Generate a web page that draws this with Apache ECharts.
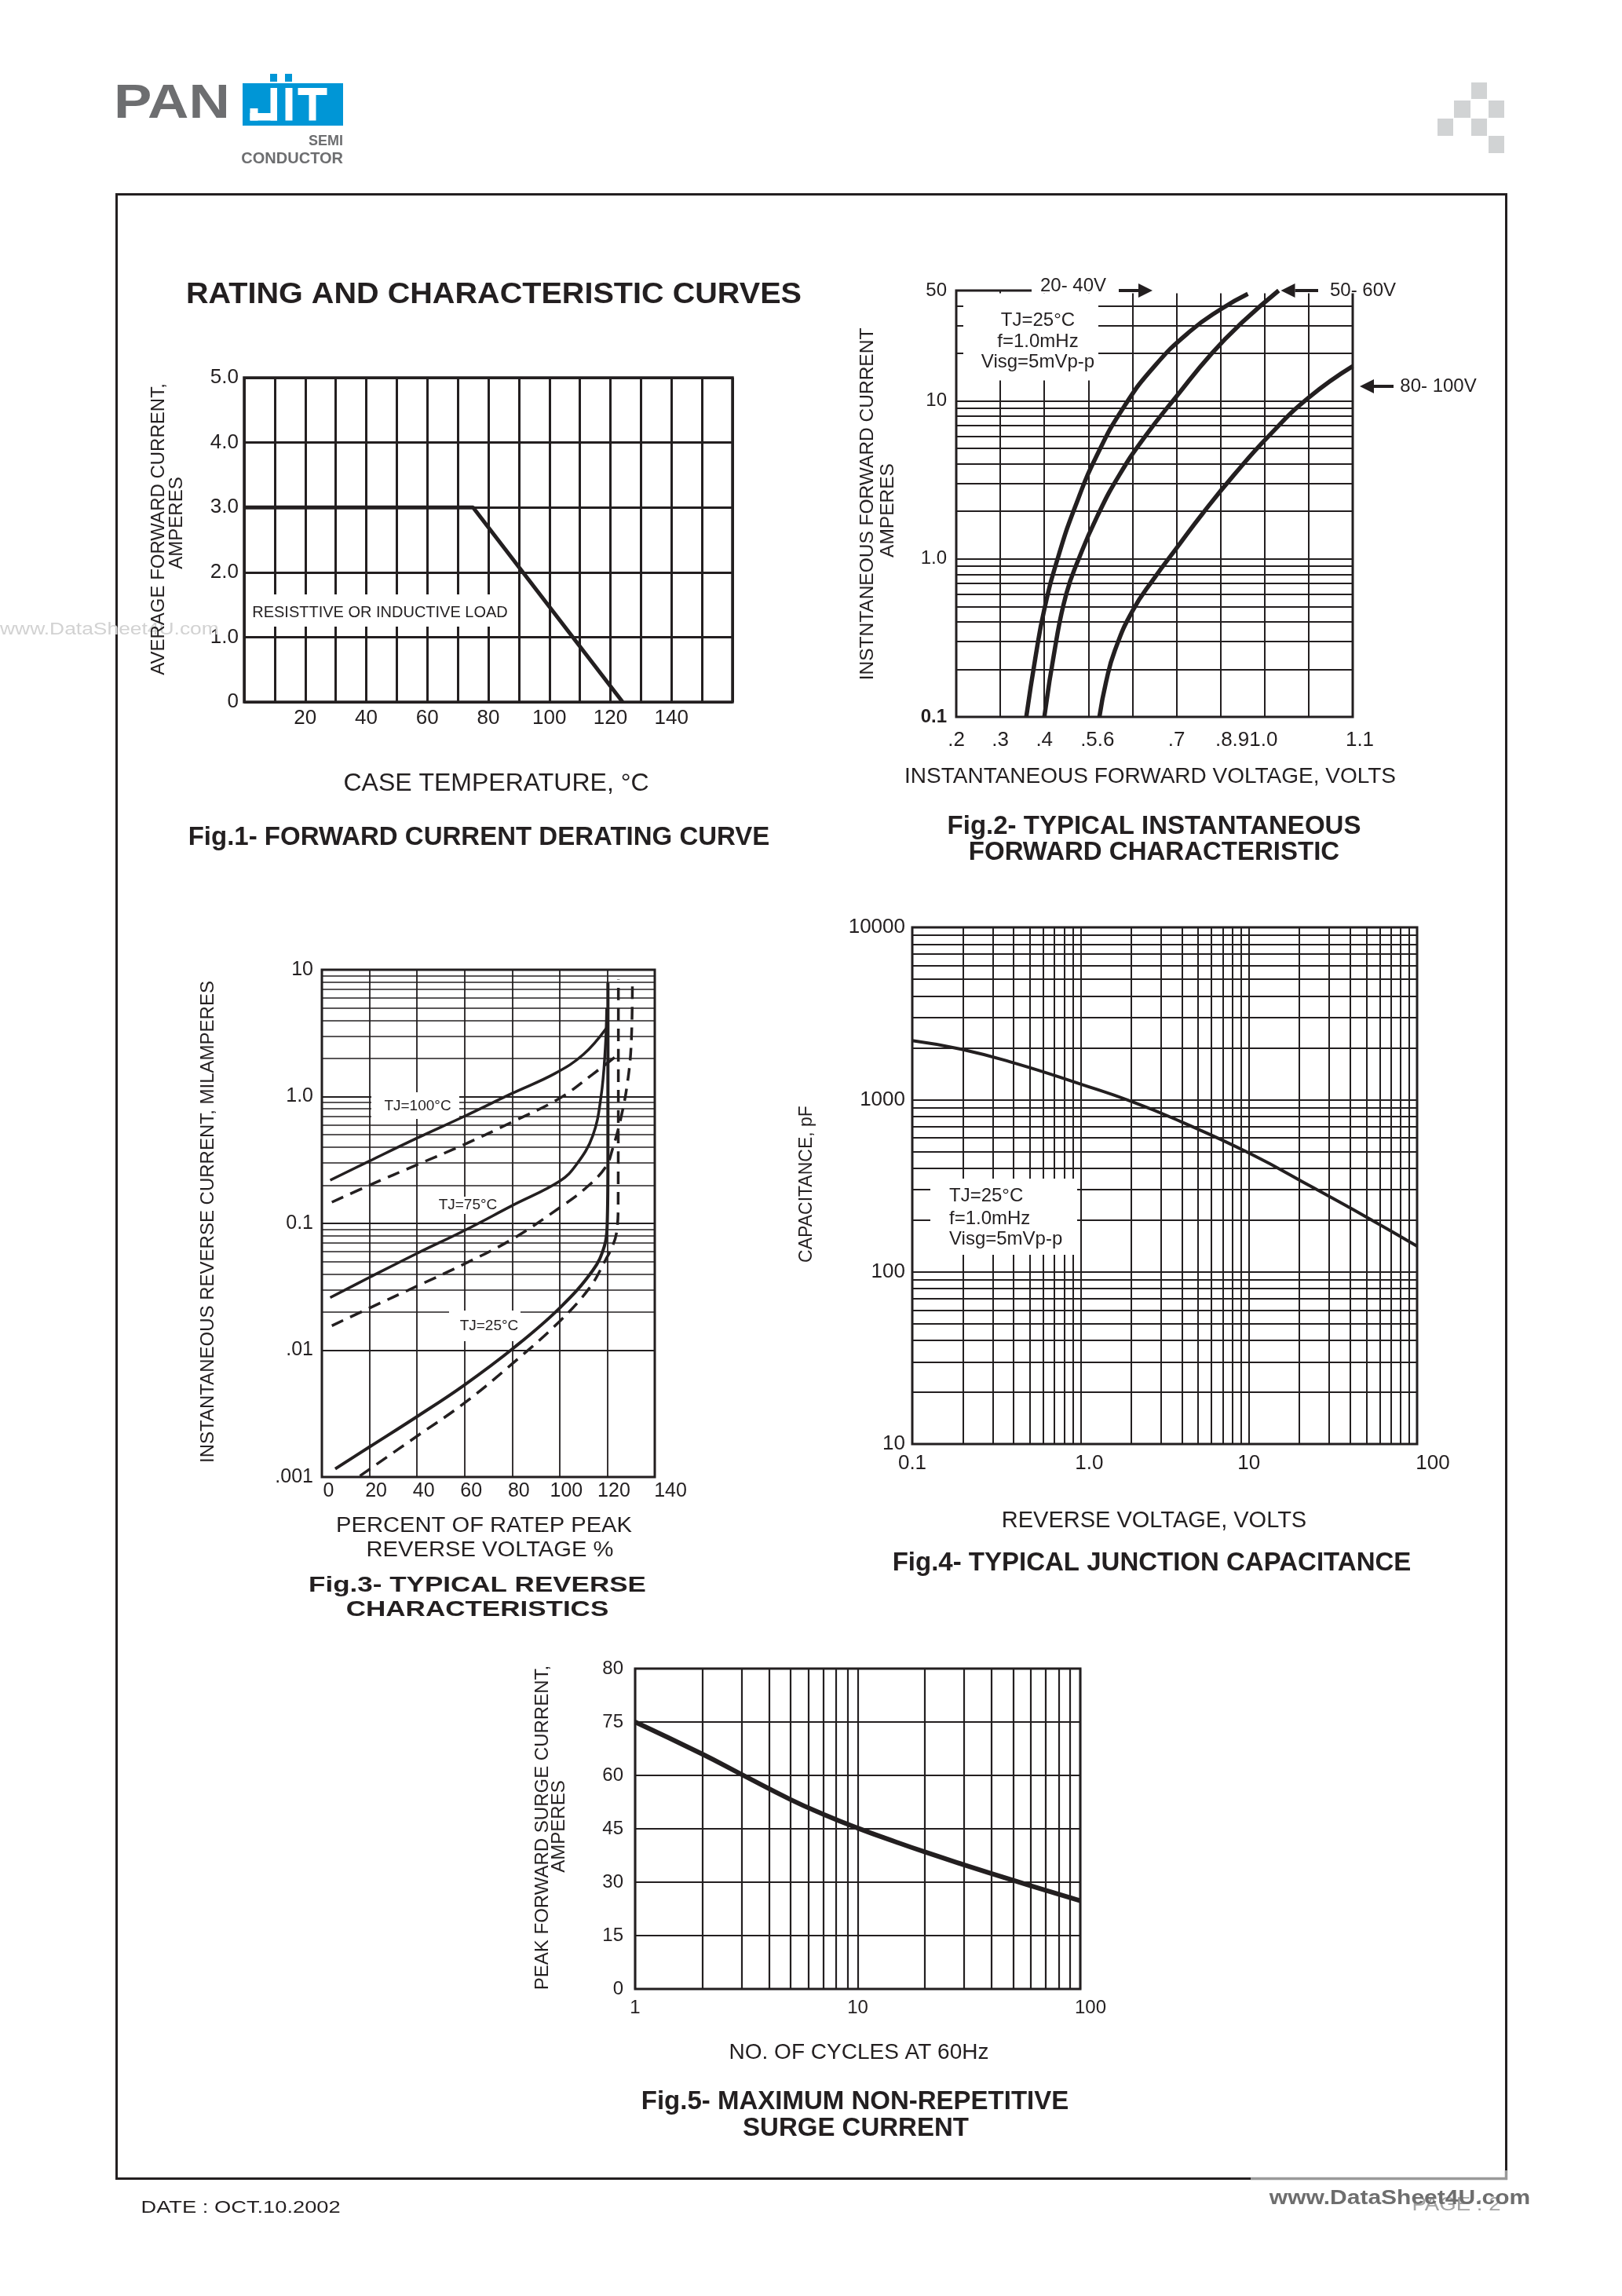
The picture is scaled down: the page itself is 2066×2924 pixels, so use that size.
<!DOCTYPE html>
<html>
<head>
<meta charset="utf-8">
<title>Rating and characteristic curves</title>
<script src="https://cdn.jsdelivr.net/npm/echarts@6.0.0/dist/echarts.min.js"></script>
<style>
  html, body { margin: 0; padding: 0; background: #fff; }
  #page { width: 2066px; height: 2924px; }
</style>
</head>
<body>
<div id="page"></div>
<script>
const INK = '#231f20'
const FONT = '"Liberation Sans", Arial, Helvetica, sans-serif'

// Fig.1 forward current derating
const fig1Temp = [0, 75, 124]
const fig1Amps = [3.0, 3.0, 0]
const fig1XTicks = [20, 40, 60, 80, 100, 120, 140]
const fig1YTicks = [0, 1, 2, 3, 4, 5]
const fig1YLabels = ['0', '1.0', '2.0', '3.0', '4.0', '5.0']

// Fig.2 forward characteristic (volts / amps)
const fig2VoltsA = [0.359, 0.380, 0.400, 0.430, 0.470, 0.520, 0.580, 0.650, 0.730, 0.800, 0.862] // 20-40V
const fig2AmpsA = [0.1, 0.24, 0.48, 1.0, 2.14, 4.57, 9.12, 16.6, 27.5, 38.0, 47.6]
const fig2VoltsB = [0.400, 0.425, 0.450, 0.478, 0.520, 0.570, 0.630, 0.700, 0.780, 0.850, 0.932] // 50-60V
const fig2AmpsB = [0.1, 0.282, 0.603, 1.0, 1.86, 3.39, 6.03, 10.7, 20, 31.6, 50]
const fig2VoltsC = [0.525, 0.540, 0.560, 0.600, 0.650, 0.700, 0.760, 0.830, 0.910, 1.000, 1.100] // 80-100V
const fig2AmpsC = [0.1, 0.166, 0.263, 0.468, 0.759, 1.17, 1.95, 3.39, 6.03, 10.5, 16.6]
const fig2XTicks = [0.2, 0.3, 0.4, 0.5, 0.7, 0.8, 1.1]
const fig2XLabels = ['.2', '.3', '.4', '{s|.5.6}', '.7', '{t|.8.91.0}', '{u|1.1}']
const fig2YTicks = [0.1, 1, 10, 50]
const fig2YLabels = ['{b|0.1}', '1.0', '10', '50']

// Fig.3 reverse characteristics (percent / mA), solid and dashed
const fig3Pct100 = [3.5, 20, 40, 60, 80, 98, 110, 119.7]
const fig3Ir100 = [0.219, 0.31, 0.47, 0.70, 1.06, 1.52, 2.15, 3.47]
const fig3Pct75 = [3.5, 20, 40, 60, 80, 100, 107, 113.9, 117.4, 119.2, 119.8]
const fig3Ir75 = [0.026, 0.0375, 0.058, 0.088, 0.138, 0.215, 0.29, 0.49, 1.0, 2.42, 5.0]
const fig3Pct25 = [5.6, 20.1, 40.3, 59.7, 80.6, 100, 113.9, 118.8, 120.0, 120.3, 120.3]
const fig3Ir25 = [0.00116, 0.00173, 0.00302, 0.00528, 0.0104, 0.0215, 0.0425, 0.066, 0.098, 0.3, 7.9]
const fig3Pct100d = [4.2, 20, 40, 60, 80, 100, 113.9, 123.6]
const fig3Ir100d = [0.147, 0.2, 0.29, 0.42, 0.63, 0.97, 1.5, 2.07]
const fig3Pct75d = [4.2, 20, 40, 60, 80, 100, 111, 119.4, 122.2, 125.7, 128.5, 130.1, 130.6]
const fig3Ir75d = [0.0156, 0.0215, 0.032, 0.048, 0.075, 0.133, 0.19, 0.279, 0.384, 0.67, 1.28, 2.62, 8.38]
const fig3Pct25d = [16, 40, 60, 80, 100, 112.5, 119.4, 122.2, 123.9, 124.6, 124.7]
const fig3Ir25d = [0.00102, 0.0021, 0.00384, 0.0078, 0.0169, 0.0309, 0.0519, 0.066, 0.084, 0.136, 8.38]
const fig3XTicks = [0, 20, 40, 60, 80, 100, 120, 140]
const fig3XLabels = ['{p|0}', '{p|20}', '{p|40}', '{p|60}', '{p|80}', '{p|100}', '{p|120}', '{q|140}']
const fig3YTicks = [0.001, 0.01, 0.1, 1, 10]
const fig3YLabels = ['.001', '.01', '0.1', '1.0', '10']

// Fig.4 junction capacitance (volts / pF)
const fig4Volts = [0.1, 0.196, 0.405, 1.0, 2.06, 3.99, 10, 24.3, 50, 100]
const fig4Pf = [2198, 1959, 1629, 1230, 966, 741, 490, 307, 208, 141]
const fig4XTicks = [0.1, 1, 10, 100]
const fig4XLabels = ['0.1', '{a|1.0}', '10', '{b|100}']
const fig4YTicks = [10, 100, 1000, 10000]
const fig4YLabels = ['10', '100', '1000', '10000']

// Fig.5 surge current (cycles / amps)
const fig5Cycles = [1, 2, 3, 5, 7, 10, 15, 20, 30, 50, 70, 100]
const fig5Amps = [75, 66, 60.3, 53.2, 49.1, 45.2, 41.2, 38.5, 34.9, 30.5, 27.7, 24.8]
const fig5XTicks = [1, 10, 100]
const fig5XLabels = ['1', '10', '{b|100}']
const fig5YTicks = [0, 15, 30, 45, 60, 75, 90]
const fig5YLabels = ['0', '15', '30', '45', '60', '75', '80']

const logMinorSteps = [2, 3, 4, 5, 6, 7, 8, 9]

function logMinors(lo, hi) {
  const out = []
  for (let d = lo; d < hi * 0.999; d *= 10) {
    logMinorSteps.forEach(k => {
      const v = +(d * k).toPrecision(4)
      if (v < hi * 0.999) out.push(v)
    })
  }
  return out
}

const near = (a, b) => Math.abs(a - b) <= Math.abs(b) * 1e-6 + 1e-12
const tickFmt = (ticks, labels) => v => {
  const i = ticks.findIndex(t => near(v, t))
  return i < 0 ? '' : labels[i]
}
const pts = (xs, ys) => xs.map((x, i) => [x, ys[i]])
const pad = (size, left) => ({ fontSize: size, fontFamily: FONT, color: INK, padding: [0, 0, 0, left] })

function axis(idx, type, extra, label) {
  return Object.assign({
    gridIndex: idx,
    type: type,
    axisLine: { show: false },
    axisTick: { show: false },
    splitLine: { show: true, lineStyle: { color: INK, width: 2, type: 'solid' } },
    axisLabel: Object.assign({ color: INK, fontFamily: FONT, fontSize: 24 }, label)
  }, extra)
}

function curve(idx, xs, ys, width, dashed, smooth) {
  return {
    type: 'line', xAxisIndex: idx, yAxisIndex: idx, z: 7,
    data: pts(xs, ys), showSymbol: false, symbol: 'none', smooth: smooth,
    silent: true, animation: false,
    lineStyle: { color: INK, width: width, type: dashed ? [16, 10] : 'solid' }
  }
}

// minor paper lines of log scales, drawn through the axes
function paperLines(idx, anchor, xs, ys, width) {
  return {
    type: 'line', xAxisIndex: idx, yAxisIndex: idx, z: 0, silent: true, animation: false,
    data: [anchor], showSymbol: false, symbol: 'none', lineStyle: { opacity: 0 },
    markLine: {
      z: 1, silent: true, animation: false, symbol: ['none', 'none'],
      label: { show: false }, emphasis: { disabled: true },
      lineStyle: { type: 'solid', color: INK, width: width, opacity: 1 },
      data: xs.map(v => ({ xAxis: v })).concat(ys.map(v => ({ yAxis: v })))
    }
  }
}

function text(x, y, str, size, o) {
  o = o || {}
  return {
    type: 'text', x: x, y: y, z: o.z || 8,
    rotation: o.rot || 0, scaleX: o.sx || 1,
    style: {
      text: str, fill: o.color || INK, fontFamily: FONT, fontSize: size,
      fontWeight: o.bold ? 'bold' : 'normal',
      align: o.align || 'center', verticalAlign: 'middle'
    }
  }
}
const vtext = (x, y, str, size, o) => text(x, y, str, size, Object.assign({ rot: Math.PI / 2 }, o))
const white = (x, y, w, h) => ({ type: 'rect', z: 6, shape: { x: x, y: y, width: w, height: h }, style: { fill: '#fff' } })
const box = (x, y, w, h, fill, z) => ({ type: 'rect', z: z || 8, shape: { x: x, y: y, width: w, height: h }, style: { fill: fill } })

function arrow(tail, tip, y) {
  const dir = tip > tail ? 1 : -1
  const hl = 18, hh = 9
  return [
    { type: 'line', z: 8, shape: { x1: tail, y1: y, x2: tip - dir * hl, y2: y }, style: { stroke: INK, lineWidth: 4 } },
    { type: 'polygon', z: 8, shape: { points: [[tip, y], [tip - dir * hl, y - hh], [tip - dir * hl, y + hh]] }, style: { fill: INK } }
  ]
}

const GRAY = '#6d6e70'
const BLUE = '#0096d6'
const SQ = '#d1d3d4'

const graphics = [
  // page frame
  { type: 'rect', z: 1, shape: { x: 148.5, y: 247.5, width: 1770, height: 2527 }, style: { fill: 'none', stroke: INK, lineWidth: 3 } },
  { type: 'line', z: 2, shape: { x1: 1593, y1: 2774.5, x2: 1920, y2: 2774.5 }, style: { stroke: '#9a9a9a', lineWidth: 3.5 } },
  { type: 'line', z: 2, shape: { x1: 1918.5, y1: 2764, x2: 1918.5, y2: 2776 }, style: { stroke: '#9a9a9a', lineWidth: 3.5 } },

  // logo
  text(145, 133, 'PAN', 62, { bold: true, align: 'left', sx: 1.17, color: GRAY }),
  box(309, 106, 128, 54, BLUE),
  box(344, 94, 9, 10, BLUE), box(363, 94, 9, 10, BLUE),
  box(344.5, 112, 8.5, 41.5, '#fff', 9), box(318.5, 144, 34.5, 9.5, '#fff', 9), box(318.5, 138, 10, 15.5, '#fff', 9),
  box(363.5, 112, 9, 41.5, '#fff', 9),
  box(379.5, 112, 37, 9, '#fff', 9), box(393.5, 112, 9, 41.5, '#fff', 9),
  text(437, 180, 'SEMI', 18, { bold: true, align: 'right', color: GRAY }),
  text(437, 202, 'CONDUCTOR', 20, { bold: true, align: 'right', color: GRAY }),
  box(1874, 105, 20, 21, SQ), box(1852, 128, 21, 22, SQ), box(1896, 128, 20, 22, SQ),
  box(1831, 151, 20, 22, SQ), box(1874, 151, 20, 22, SQ), box(1896, 173, 20, 22, SQ),

  // watermark at the left margin
  text(0, 802, 'www.DataSheet4U.com', 22, { align: 'left', sx: 1.2, color: '#d2d2d2', z: 3 }),

  // Fig.1
  text(629, 376, 'RATING AND CHARACTERISTIC CURVES', 36, { bold: true, sx: 1.1 }),
  vtext(202.5, 674, 'AVERAGE FORWARD CURRENT,', 24),
  vtext(225.5, 666, 'AMPERES', 24),
  white(316, 757, 336, 41),
  text(484, 780, 'RESISTTIVE OR INDUCTIVE LOAD', 20),
  text(632, 998, 'CASE TEMPERATURE, \u00b0C', 32),
  text(610, 1067, 'Fig.1- FORWARD CURRENT DERATING CURVE', 33, { bold: true }),

  // Fig.2
  white(1227, 373.5, 172, 111),
  white(1314, 366, 412, 7.5),
  text(1322, 408, 'TJ=25\u00b0C', 24),
  text(1322, 435, 'f=1.0mHz', 24),
  text(1322, 461, 'Visg=5mVp-p', 24),
  text(1367, 364, '20- 40V', 24),
  ...arrow(1425, 1468, 370),
  text(1736, 370, '50- 60V', 24),
  ...arrow(1679, 1631.5, 370),
  text(1832, 492, '80- 100V', 24),
  ...arrow(1775, 1732, 492),
  vtext(1105, 642, 'INSTNTANEOUS FORWARD CURRENT', 24.5),
  vtext(1131, 650, 'AMPERES', 24.5),
  text(1465, 989, 'INSTANTANEOUS FORWARD VOLTAGE, VOLTS', 28),
  text(1470, 1053, 'Fig.2- TYPICAL INSTANTANEOUS', 33, { bold: true }),
  text(1470, 1086, 'FORWARD CHARACTERISTIC', 33, { bold: true }),

  // Fig.3
  white(473, 1391, 112, 34),
  text(532, 1409, 'TJ=100\u00b0C', 19),
  white(556, 1524, 80, 22),
  text(596, 1535, 'TJ=75\u00b0C', 19),
  white(572, 1669, 91, 39),
  text(623, 1689, 'TJ=25\u00b0C', 19),
  vtext(265, 1556, 'INSTANTANEOUS REVERSE CURRENT, MILAMPERES', 24),
  text(616.5, 1943.5, 'PERCENT OF RATEP PEAK', 27, { sx: 1.08 }),
  text(624, 1974.5, 'REVERSE VOLTAGE %', 27, { sx: 1.08 }),
  text(608, 2019.5, 'Fig.3- TYPICAL REVERSE', 28, { bold: true, sx: 1.25 }),
  text(608, 2050, 'CHARACTERISTICS', 28, { bold: true, sx: 1.25 }),

  // Fig.4
  white(1185, 1501, 187, 97),
  text(1209, 1523, 'TJ=25\u00b0C', 24, { align: 'left' }),
  text(1209, 1552, 'f=1.0mHz', 24, { align: 'left' }),
  text(1209, 1578, 'Visg=5mVp-p', 24, { align: 'left' }),
  vtext(1028, 1508, 'CAPACITANCE, pF', 23),
  text(1470, 1937, 'REVERSE VOLTAGE, VOLTS', 29),
  text(1467, 1991, 'Fig.4- TYPICAL JUNCTION CAPACITANCE', 33, { bold: true }),

  // Fig.5
  vtext(691, 2327.5, 'PEAK FORWARD SURGE CURRENT,', 24),
  vtext(712, 2326, 'AMPERES', 24),
  text(1094, 2614, 'NO. OF CYCLES AT 60Hz', 28),
  text(1089, 2677, 'Fig.5- MAXIMUM NON-REPETITIVE', 33, { bold: true }),
  text(1090, 2711, 'SURGE CURRENT', 33, { bold: true }),

  // footer
  text(179.5, 2812, 'DATE : OCT.10.2002', 22, { align: 'left', sx: 1.24 }),
  text(1855, 2808, 'PAGE : 2', 24, { sx: 1.15, color: '#a3a3a3' }),
  text(1783, 2800, 'www.DataSheet4U.com', 25, { bold: true, sx: 1.2, color: '#6e6e6e', z: 9 })
]

const chart = echarts.init(document.getElementById('page'))

chart.setOption({
  backgroundColor: '#fff',
  animation: false,
  textStyle: { fontFamily: FONT },
  grid: [
    { left: 311, top: 481, width: 622, height: 413, borderWidth: 3.5 },
    { left: 1218, top: 370, width: 505, height: 543, borderWidth: 3 },
    { left: 410, top: 1235, width: 424, height: 646, borderWidth: 3 },
    { left: 1162, top: 1181, width: 643, height: 658, borderWidth: 3 },
    { left: 809, top: 2125, width: 567, height: 408, borderWidth: 3 }
  ].map(g => Object.assign({ show: true, borderColor: INK, backgroundColor: 'transparent', containLabel: false, outerBoundsMode: 'none' }, g)),
  xAxis: [
    axis(0, 'value', { min: 0, max: 160, interval: 10, splitLine: { lineStyle: { color: INK, width: 3 } } },
      { fontSize: 26, margin: 8, formatter: v => (fig1XTicks.indexOf(v) >= 0 ? String(v) : '') }),
    axis(1, 'value', { min: 0.2, max: 1.1, interval: 0.1 },
      {
        fontSize: 26, margin: 17, formatter: tickFmt(fig2XTicks, fig2XLabels),
        rich: { s: pad(26, 23), t: pad(26, 66), u: pad(26, 18) }
      }),
    axis(2, 'value', { min: 0, max: 140, interval: 20, splitLine: { lineStyle: { color: INK, width: 1.8 } } },
      {
        fontSize: 25, margin: 6, formatter: tickFmt(fig3XTicks, fig3XLabels),
        rich: { p: pad(25, 17), q: pad(25, 40) }
      }),
    axis(3, 'log', { min: 0.1, max: 100, logBase: 10 },
      {
        fontSize: 26, margin: 12, formatter: tickFmt(fig4XTicks, fig4XLabels),
        rich: { a: pad(26, 22), b: pad(26, 40) }
      }),
    axis(4, 'log', { min: 1, max: 100, logBase: 10, splitLine: { lineStyle: { color: INK, width: 2.2 } } },
      {
        fontSize: 24, margin: 12, formatter: tickFmt(fig5XTicks, fig5XLabels),
        rich: { b: pad(24, 26) }
      })
  ],
  yAxis: [
    axis(0, 'value', { min: 0, max: 5, interval: 1, splitLine: { lineStyle: { color: INK, width: 3 } } },
      { fontSize: 26, margin: 7, formatter: tickFmt(fig1YTicks, fig1YLabels) }),
    axis(1, 'log', { min: 0.1, max: 50, logBase: 10 },
      {
        fontSize: 24, margin: 12, formatter: tickFmt(fig2YTicks, fig2YLabels),
        rich: { b: { fontSize: 24, fontFamily: FONT, color: INK, fontWeight: 'bold' } }
      }),
    axis(2, 'log', { min: 0.001, max: 10, logBase: 10, splitLine: { lineStyle: { color: INK, width: 1.8 } } },
      { fontSize: 25, margin: 11, formatter: tickFmt(fig3YTicks, fig3YLabels) }),
    axis(3, 'log', { min: 10, max: 10000, logBase: 10 },
      { fontSize: 26, margin: 9, formatter: tickFmt(fig4YTicks, fig4YLabels) }),
    axis(4, 'value', { min: 0, max: 90, interval: 15, splitLine: { lineStyle: { color: INK, width: 2.2 } } },
      { fontSize: 24, margin: 15, formatter: tickFmt(fig5YTicks, fig5YLabels) })
  ],
  series: [
    // paper
    paperLines(1, [0.2, 0.1], [], logMinors(0.1, 50), 2),
    paperLines(2, [0, 0.001], [], logMinors(0.001, 10), 1.6),
    paperLines(3, [0.1, 10], logMinors(0.1, 100), logMinors(10, 10000), 2),
    paperLines(4, [1, 0], logMinors(1, 100), [], 2.2),

    // Fig.1
    curve(0, fig1Temp, fig1Amps, 5, false, false),
    // Fig.2
    curve(1, fig2VoltsA, fig2AmpsA, 5.5, false, 0.5),
    curve(1, fig2VoltsB, fig2AmpsB, 5.5, false, 0.5),
    curve(1, fig2VoltsC, fig2AmpsC, 5.5, false, 0.5),
    // Fig.3
    curve(2, fig3Pct100, fig3Ir100, 3.5, false, 0.4),
    curve(2, fig3Pct75, fig3Ir75, 3.5, false, 0.4),
    curve(2, fig3Pct25, fig3Ir25, 4, false, 0.4),
    curve(2, fig3Pct100d, fig3Ir100d, 3.5, true, 0.4),
    curve(2, fig3Pct75d, fig3Ir75d, 3.5, true, 0.4),
    curve(2, fig3Pct25d, fig3Ir25d, 3.5, true, 0.4),
    // Fig.4
    curve(3, fig4Volts, fig4Pf, 4, false, 0.5),
    // Fig.5
    curve(4, fig5Cycles, fig5Amps, 6, false, 0.5)
  ],
  graphic: { elements: graphics }
})
</script>
</body>
</html>
